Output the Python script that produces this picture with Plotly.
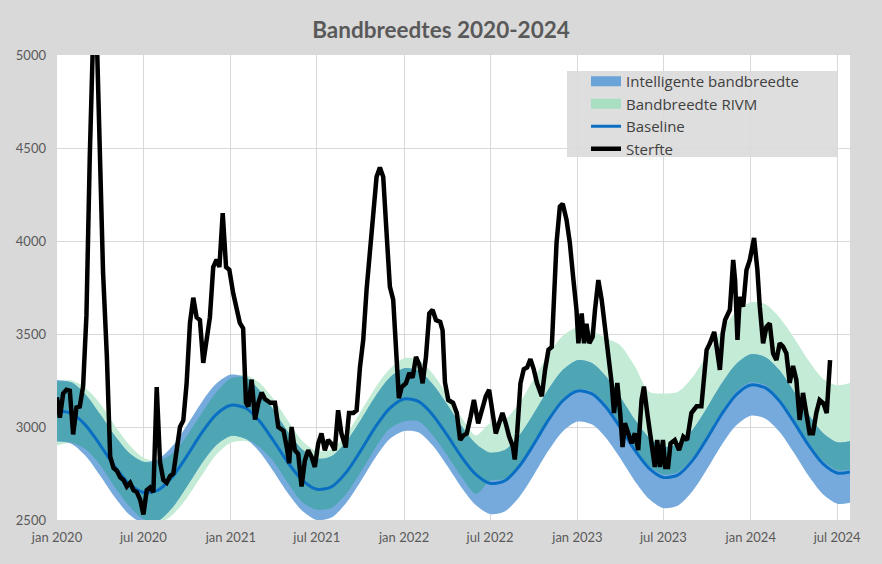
import plotly.graph_objects as go

# ---------------- data ----------------
months = [f"{y}-{m:02d}-01" for y in range(2020, 2025) for m in range(1, 13)][:55] + ["2024-07-28"]

baseline = [3088, 3074, 3010, 2903, 2790, 2695, 2648, 2661, 2735, 2846, 2970, 3067,
            3117, 3102, 3036, 2926, 2810, 2713, 2665, 2678, 2756, 2870, 2998, 3099,
            3151, 3136, 3069, 2959, 2843, 2745, 2697, 2711, 2790, 2907, 3038, 3141,
            3194, 3178, 3110, 2998, 2878, 2778, 2729, 2743, 2822, 2939, 3070, 3173,
            3226, 3210, 3141, 3026, 2905, 2803, 2753, 2758]

intel_lo = [2923, 2909, 2845, 2738, 2625, 2530, 2483, 2496, 2570, 2681, 2805, 2902,
            2952, 2937, 2871, 2761, 2645, 2548, 2500, 2513, 2591, 2705, 2833, 2934,
            2978, 2971, 2904, 2794, 2678, 2580, 2532, 2546, 2625, 2742, 2873, 2976,
            3029, 3013, 2945, 2833, 2713, 2613, 2564, 2578, 2657, 2774, 2905, 3008,
            3061, 3045, 2976, 2861, 2740, 2638, 2588, 2593]

intel_hi = [3253, 3239, 3175, 3068, 2955, 2860, 2813, 2826, 2900, 3011, 3135, 3232,
            3282, 3267, 3201, 3091, 2975, 2878, 2830, 2843, 2921, 3035, 3163, 3264,
            3316, 3301, 3234, 3124, 3008, 2910, 2862, 2876, 2955, 3072, 3203, 3306,
            3359, 3343, 3275, 3163, 3043, 2943, 2894, 2908, 2987, 3104, 3235, 3338,
            3391, 3375, 3306, 3191, 3070, 2968, 2918, 2923]

rivm_lo = [2900, 2915, 2880, 2795, 2680, 2575, 2505, 2480, 2530, 2620, 2740, 2850,
           2915, 2925, 2895, 2815, 2700, 2595, 2555, 2565, 2640, 2755, 2885, 2990,
           3030, 3030, 2960, 2850, 2735, 2640, 2710, 2722, 2800, 2917, 3048, 3150,
           3203, 3190, 3125, 3010, 2890, 2790, 2745, 2758, 2837, 2954, 3085, 3188,
           3240, 3225, 3156, 3041, 2920, 2818, 2768, 2772]

rivm_hi = [3245, 3250, 3210, 3125, 3010, 2905, 2835, 2815, 2860, 2955, 3075, 3185,
           3262, 3280, 3240, 3150, 3035, 2925, 2870, 2880, 2960, 3080, 3210, 3310,
           3370, 3360, 3290, 3175, 3055, 2955, 3020, 3040, 3130, 3260, 3390, 3490,
           3535, 3515, 3480, 3440, 3330, 3190, 3180, 3190, 3270, 3390, 3520, 3620,
           3670, 3660, 3590, 3480, 3360, 3260, 3225, 3237]

sterfte_dates = [
    "2020-01-01", "2020-01-07", "2020-01-14", "2020-01-21", "2020-01-28", "2020-02-04", "2020-02-11",
    "2020-02-18", "2020-02-25", "2020-03-03", "2020-03-10", "2020-03-17", "2020-03-25", "2020-04-01",
    "2020-04-07", "2020-04-15", "2020-04-22", "2020-04-29", "2020-05-06", "2020-05-13", "2020-05-20",
    "2020-05-27", "2020-06-03", "2020-06-10", "2020-06-17", "2020-06-24", "2020-07-01", "2020-07-08",
    "2020-07-15", "2020-07-22", "2020-07-29", "2020-08-05", "2020-08-12", "2020-08-19", "2020-08-26",
    "2020-09-02", "2020-09-09", "2020-09-16", "2020-09-23", "2020-09-30", "2020-10-07", "2020-10-14",
    "2020-10-21", "2020-10-28", "2020-11-04", "2020-11-11", "2020-11-18", "2020-11-25", "2020-12-02",
    "2020-12-08", "2020-12-15", "2020-12-22", "2020-12-29",
    "2021-01-06", "2021-01-13", "2021-01-20", "2021-01-27", "2021-02-02", "2021-02-07", "2021-02-14",
    "2021-02-21", "2021-02-28", "2021-03-07", "2021-03-14", "2021-03-25", "2021-04-04", "2021-04-11",
    "2021-04-22", "2021-04-29", "2021-05-04", "2021-05-09", "2021-05-16", "2021-05-23", "2021-05-30",
    "2021-06-06", "2021-06-13", "2021-06-20", "2021-06-27", "2021-07-04", "2021-07-11", "2021-07-18",
    "2021-07-25", "2021-08-01", "2021-08-08", "2021-08-15", "2021-08-22", "2021-08-31", "2021-09-07",
    "2021-09-16", "2021-09-23", "2021-09-30", "2021-10-07", "2021-10-14", "2021-10-25", "2021-11-04",
    "2021-11-11", "2021-11-18", "2021-11-25", "2021-12-02", "2021-12-09", "2021-12-16", "2021-12-21",
    "2021-12-27",
    "2022-01-05", "2022-01-12", "2022-01-19", "2022-01-26", "2022-02-02", "2022-02-09", "2022-02-16",
    "2022-02-23", "2022-03-02", "2022-03-09", "2022-03-18", "2022-03-23", "2022-03-28", "2022-04-04",
    "2022-04-14", "2022-04-22", "2022-04-29", "2022-05-06", "2022-05-13", "2022-05-21", "2022-05-28",
    "2022-06-06", "2022-06-13", "2022-06-22", "2022-06-29", "2022-07-06", "2022-07-13", "2022-07-20",
    "2022-07-27", "2022-08-03", "2022-08-10", "2022-08-18", "2022-08-22", "2022-08-27", "2022-09-03",
    "2022-09-10", "2022-09-17", "2022-09-24", "2022-10-01", "2022-10-08", "2022-10-18", "2022-10-25",
    "2022-11-01", "2022-11-08", "2022-11-13", "2022-11-18", "2022-11-25", "2022-12-01", "2022-12-09",
    "2022-12-16", "2022-12-23", "2022-12-30",
    "2023-01-03", "2023-01-10", "2023-01-15", "2023-01-20", "2023-01-26", "2023-02-02", "2023-02-07",
    "2023-02-14", "2023-02-21", "2023-02-28", "2023-03-07", "2023-03-14", "2023-03-19", "2023-03-26",
    "2023-04-01", "2023-04-06", "2023-04-11", "2023-04-18", "2023-04-25", "2023-05-02", "2023-05-09",
    "2023-05-16", "2023-05-21", "2023-05-28", "2023-06-06", "2023-06-13", "2023-06-18", "2023-06-24",
    "2023-06-30", "2023-07-05", "2023-07-11", "2023-07-16", "2023-07-25", "2023-08-03", "2023-08-12",
    "2023-08-20", "2023-08-29", "2023-09-09", "2023-09-19", "2023-09-30", "2023-10-07", "2023-10-16",
    "2023-10-21", "2023-10-28", "2023-11-03", "2023-11-08", "2023-11-18", "2023-11-25", "2023-11-29",
    "2023-12-04", "2023-12-09", "2023-12-16", "2023-12-23", "2023-12-30",
    "2024-01-08", "2024-01-15", "2024-01-20", "2024-01-27", "2024-02-03", "2024-02-10", "2024-02-17",
    "2024-02-24", "2024-03-02", "2024-03-09", "2024-03-16", "2024-03-23", "2024-03-30", "2024-04-06",
    "2024-04-13", "2024-04-20", "2024-04-27", "2024-05-04", "2024-05-11", "2024-05-18", "2024-05-25",
    "2024-06-02", "2024-06-09", "2024-06-16"]

sterfte = [
    3160, 3050, 3180, 3200, 3195, 2960, 3105,
    3110, 3220, 3600, 4450, 5100, 5080, 4370,
    3830, 3380, 2840, 2780, 2765, 2730, 2715,
    2680, 2700, 2660, 2650, 2610, 2530, 2660,
    2675, 2650, 3215, 2810, 2715, 2700, 2735,
    2750, 2895, 3000, 3035, 3235, 3560, 3695,
    3590, 3575, 3345, 3470, 3590, 3860, 3900,
    3860, 4150, 3860, 3845,
    3720, 3645, 3560, 3530, 3130, 3110, 3255,
    3040, 3130, 3185, 3150, 3130, 3130, 3000,
    2980, 2890, 2805, 3000, 2875, 2855, 2680,
    2820, 2875, 2840, 2785, 2910, 2965, 2875,
    2930, 2910, 2875, 3090, 2965, 2890, 3075,
    3075, 3090, 3320, 3470, 3740, 4045, 4345,
    4395, 4345, 4045, 3755, 3685, 3380, 3155,
    3215,
    3235, 3290, 3265, 3377, 3335, 3235, 3377,
    3610, 3630, 3575, 3565, 3520, 3240, 3145,
    3130, 3075, 2930, 2955, 2965, 3055, 3145,
    3020, 3075, 3165, 3200, 3075, 2965, 3020,
    3075, 3020, 2950, 2895, 2825, 2965, 3235,
    3310, 3320, 3365, 3310, 3235, 3165, 3310,
    3415, 3430, 3720, 3990, 4185, 4200, 4115,
    3990, 3805, 3630,
    3450, 3610, 3450, 3555, 3450, 3485, 3630,
    3790, 3685, 3540, 3365, 3237, 3075, 3237,
    3075, 2892, 3020, 2966, 2912, 2966, 2876,
    3145, 3217, 3075, 2912, 2785, 2930, 2785,
    2930, 2785, 2785, 2912, 2930, 2876, 2948,
    2930, 3075, 3111, 3111, 3414, 3450, 3511,
    3432, 3307, 3504, 3575, 3630, 3898, 3790,
    3468, 3699, 3647, 3844, 3898,
    4016, 3844, 3647, 3450, 3538, 3557, 3396,
    3360, 3450, 3432, 3396, 3237, 3328, 3253,
    3038, 3183, 3075, 2966, 2966, 3075, 3145,
    3127, 3075, 3360]

tick_dates = ["2020-01-01", "2020-07-01", "2021-01-01", "2021-07-01", "2022-01-01",
              "2022-07-01", "2023-01-01", "2023-07-01", "2024-01-01", "2024-07-01"]
tick_labels = ["jan 2020", "jul 2020", "jan 2021", "jul 2021", "jan 2022",
               "jul 2022", "jan 2023", "jul 2023", "jan 2024", "jul 2024"]

# ---------------- style ----------------
C_BLUE = "#76aadd"
C_GREEN = "#c3ebd6"
C_TEAL = "#4ea6b4"
C_BASE = "#0a6fc2"
FONT = "Lato"
GREY_TXT = "#595959"

overlap_lo = [max(a, b) for a, b in zip(intel_lo, rivm_lo)]
overlap_hi = [min(a, b) for a, b in zip(intel_hi, rivm_hi)]

fig = go.Figure()


def band(lo, hi, color):
    fig.add_trace(go.Scatter(x=months, y=lo, mode="lines",
                             line=dict(width=0, shape="spline", smoothing=0.8),
                             showlegend=False, hoverinfo="skip"))
    fig.add_trace(go.Scatter(x=months, y=hi, mode="lines",
                             line=dict(width=0, shape="spline", smoothing=0.8),
                             fill="tonexty", fillcolor=color,
                             showlegend=False, hoverinfo="skip"))


band(rivm_lo, rivm_hi, C_GREEN)
band(intel_lo, intel_hi, C_BLUE)
band(overlap_lo, overlap_hi, C_TEAL)

# legend entries
fig.add_trace(go.Scatter(x=[None], y=[None], mode="lines",
                         line=dict(color="#6aa3d8", width=10),
                         name="Intelligente bandbreedte"))
fig.add_trace(go.Scatter(x=[None], y=[None], mode="lines",
                         line=dict(color="#a8dfc3", width=10),
                         name="Bandbreedte RIVM"))

fig.add_trace(go.Scatter(x=months, y=baseline, mode="lines", name="Baseline",
                         line=dict(color=C_BASE, width=3, shape="spline", smoothing=0.8)))
fig.add_trace(go.Scatter(x=sterfte_dates, y=sterfte, mode="lines", name="Sterfte",
                         line=dict(color="black", width=4.5)))

L, R, T, B = 57, 32, 55, 44
W, H = 882, 564
pw, ph = W - L - R, H - T - B


def px_x(p):
    return (p - L) / pw


def px_y(p):
    return (H - B - p) / ph


fig.add_shape(type="rect", xref="paper", yref="paper",
              x0=px_x(567), x1=px_x(837), y0=px_y(157), y1=px_y(71),
              fillcolor="rgba(217,217,217,0.88)", line=dict(width=0), layer="above")

fig.update_layout(
    width=W, height=H,
    margin=dict(l=L, r=R, t=T, b=B),
    paper_bgcolor="#d9d9d9",
    plot_bgcolor="white",
    title=dict(text="<b>Bandbreedtes 2020-2024</b>", x=0.5, xanchor="center",
               y=1 - 30 / H, yanchor="middle", yref="container",
               font=dict(family=FONT, size=22.5, color=GREY_TXT)),
    legend=dict(x=px_x(586), y=px_y(65), xanchor="left", yanchor="top",
                traceorder="normal",
                bgcolor="rgba(0,0,0,0)", font=dict(family="Open Sans", size=15, color="#404040"),
                tracegroupgap=0),
    showlegend=True,
    hovermode=False,
)
fig.update_xaxes(type="date", range=["2020-01-01", "2024-07-28"],
                 tickvals=tick_dates, ticktext=tick_labels,
                 showgrid=True, gridcolor="#d9d9d9", gridwidth=1,
                 zeroline=False, showline=False, ticks="",
                 tickfont=dict(family=FONT, size=13, color=GREY_TXT),
                 ticklabelstandoff=8)
fig.update_yaxes(range=[2500, 5000], tickvals=[2500, 3000, 3500, 4000, 4500, 5000],
                 showgrid=True, gridcolor="#d9d9d9", gridwidth=1,
                 zeroline=False, showline=False, ticks="",
                 tickfont=dict(family=FONT, size=13, color=GREY_TXT),
                 ticklabelstandoff=10)

fig.write_html("out.html")
